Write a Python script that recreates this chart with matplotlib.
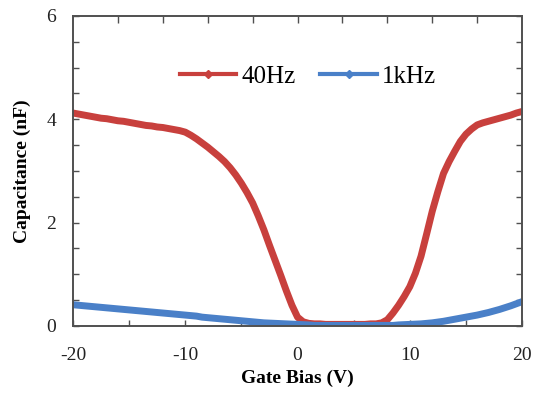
import numpy as np
import matplotlib as mpl
mpl.use("Agg")
from matplotlib import pyplot as plt
from matplotlib.lines import Line2D
from matplotlib.ticker import MultipleLocator, FixedLocator

# Gate bias sweep (V), 0.5 V step
gate_bias = np.linspace(-20, 20, 81)

# Capacitance (nF) at 40 Hz
cap_40hz = [4.12, 4.10, 4.08, 4.06, 4.04, 4.02, 4.01, 3.99, 3.97, 3.96,
            3.94, 3.92, 3.90, 3.88, 3.87, 3.85, 3.84, 3.82, 3.80, 3.78,
            3.75, 3.69, 3.62, 3.54, 3.46, 3.37, 3.28, 3.18, 3.06, 2.92,
            2.76, 2.58, 2.38, 2.13, 1.86, 1.56, 1.27, 0.98, 0.68, 0.40,
            0.17, 0.08, 0.05, 0.04, 0.04, 0.03, 0.03, 0.03, 0.03, 0.03,
            0.03, 0.03, 0.03, 0.04, 0.04, 0.06, 0.12, 0.25, 0.40, 0.57,
            0.76, 1.02, 1.35, 1.78, 2.22, 2.60, 2.95, 3.18, 3.38, 3.57,
            3.71, 3.81, 3.89, 3.93, 3.96, 3.99, 4.02, 4.05, 4.08, 4.12,
            4.15]

# Capacitance (nF) at 1 kHz
cap_1khz = [0.41, 0.40, 0.39, 0.38, 0.37, 0.36, 0.35, 0.34, 0.33, 0.32,
            0.31, 0.30, 0.29, 0.28, 0.27, 0.26, 0.25, 0.24, 0.23, 0.22,
            0.21, 0.20, 0.19, 0.17, 0.16, 0.15, 0.14, 0.13, 0.12, 0.11,
            0.10, 0.09, 0.08, 0.07, 0.06, 0.055, 0.05, 0.045, 0.04, 0.035,
            0.03, 0.025, 0.02, 0.01, 0.01, 0.01, 0.01, 0.01, 0.01, 0.01,
            0.01, 0.01, 0.01, 0.01, 0.01, 0.01, 0.01, 0.01, 0.02, 0.025,
            0.03, 0.035, 0.04, 0.05, 0.06, 0.075, 0.09, 0.11, 0.13, 0.15,
            0.17, 0.19, 0.21, 0.235, 0.26, 0.29, 0.32, 0.355, 0.39, 0.43,
            0.47]

labels = ["40Hz", "1kHz"]
colors = ["#C8403D", "#4A80C8"]

plt.rcParams["font.family"] = ["Liberation Serif", "DejaVu Serif"]
plt.rcParams["axes.unicode_minus"] = False

fig = plt.figure(figsize=(5.41, 3.97), dpi=100)
ax = fig.add_axes([0.135, 0.179, 0.830, 0.781])

for y, c in zip([cap_40hz, cap_1khz], colors):
    ax.plot(gate_bias, y, color=c, lw=5, solid_capstyle="round",
            solid_joinstyle="round")

ax.set_xlim(-20, 20)
ax.set_ylim(0, 6)

ax.xaxis.set_major_locator(MultipleLocator(10))
ax.xaxis.set_minor_locator(MultipleLocator(5))
ax.yaxis.set_major_locator(MultipleLocator(2))
ax.yaxis.set_minor_locator(MultipleLocator(0.5))

ax.tick_params(axis="both", which="both", direction="in", length=4,
               width=1, colors="#505050", labelcolor="#222222",
               labelsize=14)
ax.tick_params(axis="x", pad=15)
ax.tick_params(axis="y", pad=12, right=True, which="both")

# top axis ticks (unlabelled)
top = ax.twiny()
top.set_xlim(ax.get_xlim())
top.xaxis.set_major_locator(FixedLocator([-16, -12, -8, -4, 0, 4, 8, 12, 16]))
top.tick_params(direction="in", length=5, width=1, colors="#505050",
                labeltop=False)

for a in (ax, top):
    for s in a.spines.values():
        s.set_color("#505050")
        s.set_linewidth(1.2)

ax.set_xlabel("Gate Bias (V)", fontsize=14, fontweight="bold", labelpad=4)
ax.set_ylabel("Capacitance (nF)", fontsize=14, fontweight="bold", labelpad=11)

handles = [Line2D([], [], color=c, lw=3, marker="D", ms=4) for c in colors]
ax.legend(handles, labels, loc="center left", bbox_to_anchor=(0.188, 0.803),
          ncol=2, frameon=False, fontsize=18, handlelength=2.25,
          columnspacing=1.0, handletextpad=0.2)

fig.savefig("out.png", dpi=100)
